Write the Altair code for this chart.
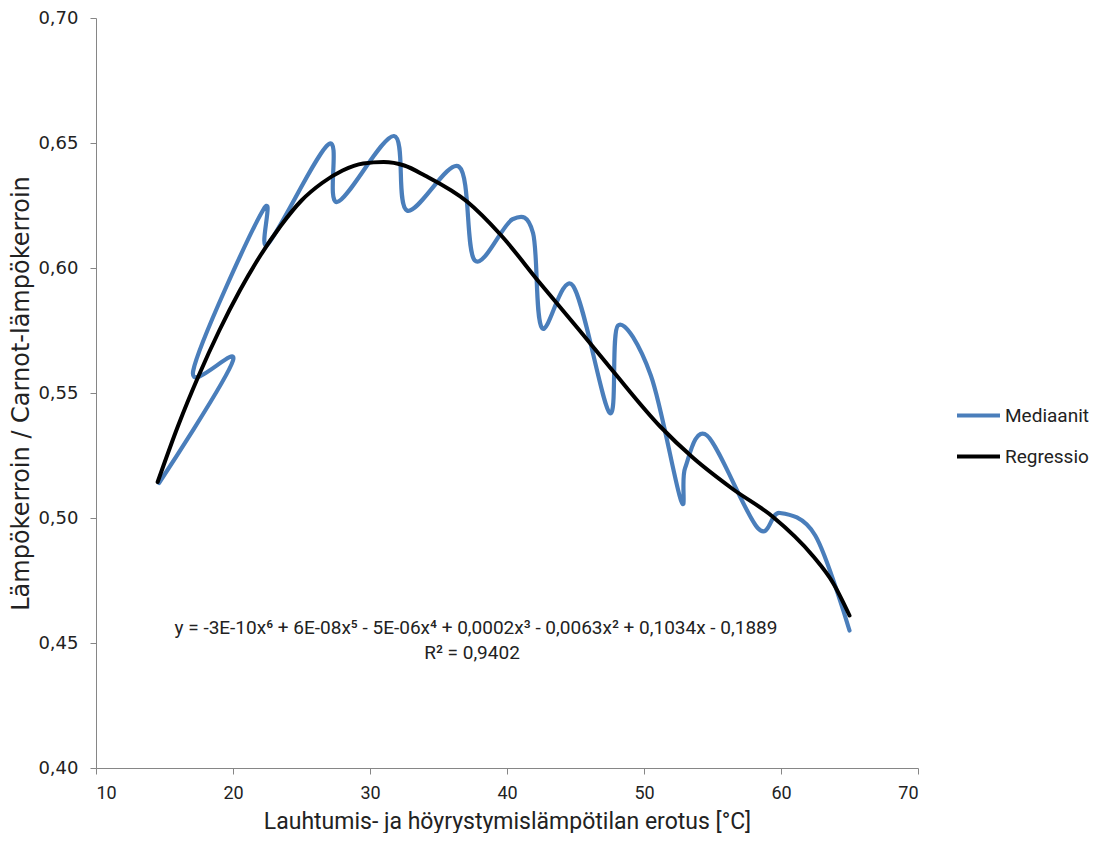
import altair as alt
import pandas as pd

# Mediaanit (blue, drawn in data order, smoothed)
med_x = [14.6, 20.0, 17.1, 22.2, 22.55, 27.0, 27.6, 31.75, 32.7, 36.5, 37.65,
         40.4, 41.9, 42.55, 44.8, 47.5, 48.1, 50.5, 52.7, 53.0, 54.6, 58.3, 59.9, 62.5, 65.0]
med_y = [0.514, 0.563, 0.559, 0.6232, 0.6096, 0.6496, 0.6264, 0.6528, 0.623, 0.6405, 0.603,
         0.6195, 0.614, 0.576, 0.593, 0.542, 0.577, 0.557, 0.507, 0.520, 0.533, 0.496, 0.502, 0.493, 0.455]

# Regressio (black)
reg_x = [14.5, 16.0, 17.5, 19.0, 20.5, 22.0, 23.5, 25.0, 26.5, 28.0, 29.5, 31.0, 32.5, 34.0,
         37.1, 39.5, 42.4, 45.3, 47.7, 51.2, 53.6, 56.5, 59.4, 62.3, 63.8, 65.0]
reg_y = [0.5144, 0.537, 0.557, 0.575, 0.591, 0.605, 0.617, 0.627, 0.634, 0.639, 0.6418, 0.6424,
         0.641, 0.637, 0.6265, 0.6135, 0.594, 0.575, 0.559, 0.5365, 0.524, 0.5115, 0.5005,
         0.485, 0.474, 0.461]

series_names = ["Mediaanit", "Regressio"]
series_colors = ["#4A7EBB", "#000000"]
x_ticks = [10, 20, 30, 40, 50, 60, 70]
y_ticks = [0.40, 0.45, 0.50, 0.55, 0.60, 0.65, 0.70]

eq_line1 = "y = -3E-10x\u2076 + 6E-08x\u2075 - 5E-06x\u2074 + 0,0002x\u00b3 - 0,0063x\u00b2 + 0,1034x - 0,1889"
eq_line2 = "R\u00b2 = 0,9402"

df_med = pd.DataFrame({"x": med_x, "y": med_y, "series": series_names[0], "i": range(len(med_x))})
df_reg = pd.DataFrame({"x": reg_x, "y": reg_y, "series": series_names[1], "i": range(len(reg_x))})

FONT = "Roboto"

x_enc = alt.X("x:Q", scale=alt.Scale(domain=[10, 70], nice=False, zero=False),
              axis=alt.Axis(values=x_ticks, title="Lauhtumis- ja höyrystymislämpötilan erotus [°C]",
                            labelFont=FONT, labelFontSize=18, labelPadding=10,
                            titleFont=FONT, titleFontSize=23, titleFontWeight="normal",
                            titleY=42, titleBaseline="top"))
y_enc = alt.Y("y:Q", scale=alt.Scale(domain=[0.40, 0.70], nice=False, zero=False),
              axis=alt.Axis(values=y_ticks, title="Lämpökerroin / Carnot-lämpökerroin",
                            labelExpr="replace(format(datum.value, '.2f'), '.', ',')",
                            labelFont="DejaVu Sans", labelFontSize=18, labelPadding=12,
                            titleFont="DejaVu Sans", titleFontSize=24, titleFontWeight="normal",
                            titleX=-63, titleBaseline="bottom"))
color_enc = alt.Color("series:N", scale=alt.Scale(domain=series_names, range=series_colors),
                      legend=alt.Legend(title=None, orient="none", legendX=859, legendY=374,
                                        symbolType="stroke", symbolSize=1849, symbolStrokeWidth=4,
                                        labelFont=FONT, labelFontSize=19, labelColor="#222",
                                        labelOffset=3, rowPadding=7, padding=0))

blue = alt.Chart(df_med).mark_line(
    interpolate="cardinal", tension=0, strokeWidth=4.2, strokeCap="round", strokeJoin="round"
).encode(x=x_enc, y=y_enc, color=color_enc, order=alt.Order("i:Q"))

black = alt.Chart(df_reg).mark_line(
    interpolate="monotone", strokeWidth=4, strokeCap="round", strokeJoin="round"
).encode(x=x_enc, y=y_enc, color=color_enc, order=alt.Order("i:Q"))

t1 = alt.Chart(pd.DataFrame({"t": [eq_line1]})).mark_text(
    font=FONT, fontSize=19, align="center", baseline="middle", color="#222"
).encode(text="t:N", x=alt.value(380), y=alt.value(610))

t2 = alt.Chart(pd.DataFrame({"t": [eq_line2]})).mark_text(
    font=FONT, fontSize=19, align="center", baseline="middle", color="#222"
).encode(text="t:N", x=alt.value(376), y=alt.value(635))

chart = alt.layer(blue, black, t1, t2).properties(
    width=822, height=750,
    padding={"left": 88, "right": 171, "top": 10, "bottom": 65},
    autosize=alt.AutoSizeParams(type="none"),
).configure_view(stroke=None).configure_axis(
    grid=False, domainColor="#868686", tickColor="#868686", tickSize=6,
    labelColor="#222", titleColor="#222", domainWidth=1, tickWidth=1,
)

chart.save("out.html", embed_options={"renderer": "svg", "actions": False})
